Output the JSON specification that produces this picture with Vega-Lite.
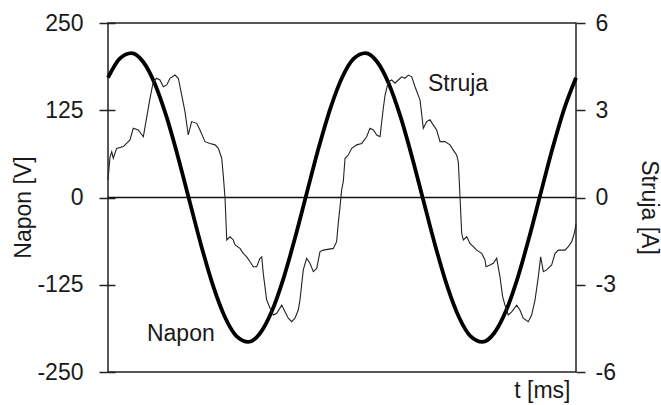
{
  "$schema": "https://vega.github.io/schema/vega-lite/v6.json",
  "autosize": {"type": "none"},
  "width": 468,
  "height": 349,
  "padding": {"left": 108, "top": 23, "right": 85, "bottom": 33},
  "background": "white",
  "config": {
    "view": {"stroke": "#222", "strokeWidth": 1.5},
    "font": "Liberation Sans",
    "axis": {"grid": false, "labelFont": "Liberation Sans", "titleFont": "Liberation Sans", "labelFontSize": 23, "titleFontSize": 23, "titleFontWeight": "normal", "labelColor": "#1a1a1a", "titleColor": "#1a1a1a", "tickColor": "#222", "tickWidth": 1.5, "labelFlush": false, "labelOverlap": false}
  },
  "datasets": {
    "napon": [
      {"t": 0, "v": 171.6}, {"t": 1, "v": 199.0}, {"t": 2, "v": 206.9}, {"t": 3, "v": 194.5}, {"t": 4, "v": 163.1},
      {"t": 5, "v": 115.8}, {"t": 6, "v": 57.1}, {"t": 7, "v": -7.2}, {"t": 8, "v": -70.8}, {"t": 9, "v": -127.4},
      {"t": 10, "v": -171.6}, {"t": 11, "v": -199.0}, {"t": 12, "v": -206.9}, {"t": 13, "v": -194.5}, {"t": 14, "v": -163.1},
      {"t": 15, "v": -115.8}, {"t": 16, "v": -57.1}, {"t": 17, "v": 7.2}, {"t": 18, "v": 70.8}, {"t": 19, "v": 127.4},
      {"t": 20, "v": 171.6}, {"t": 21, "v": 199.0}, {"t": 22, "v": 206.9}, {"t": 23, "v": 194.5}, {"t": 24, "v": 163.1},
      {"t": 25, "v": 115.8}, {"t": 26, "v": 57.1}, {"t": 27, "v": -7.2}, {"t": 28, "v": -70.8}, {"t": 29, "v": -127.4},
      {"t": 30, "v": -171.6}, {"t": 31, "v": -199.0}, {"t": 32, "v": -206.9}, {"t": 33, "v": -194.5}, {"t": 34, "v": -163.1},
      {"t": 35, "v": -115.8}, {"t": 36, "v": -57.1}, {"t": 37, "v": 7.2}, {"t": 38, "v": 70.8}, {"t": 39, "v": 127.4},
      {"t": 40, "v": 171.6}
    ],
    "struja": [
      {"t": 0, "a": 0.6}, {"t": 0.17, "a": 1.39}, {"t": 0.32, "a": 1.57}, {"t": 0.45, "a": 1.35}, {"t": 0.74, "a": 1.69},
      {"t": 1.31, "a": 1.75}, {"t": 1.88, "a": 1.98}, {"t": 2.16, "a": 2.38}, {"t": 2.59, "a": 2.32}, {"t": 3.02, "a": 2.09},
      {"t": 3.59, "a": 3.41}, {"t": 3.87, "a": 3.98}, {"t": 4.16, "a": 4.10}, {"t": 4.44, "a": 4.04}, {"t": 4.73, "a": 3.81},
      {"t": 5.02, "a": 3.87}, {"t": 5.30, "a": 4.10}, {"t": 5.73, "a": 4.21}, {"t": 6.01, "a": 4.10}, {"t": 6.30, "a": 3.52},
      {"t": 6.58, "a": 2.95}, {"t": 6.86, "a": 2.15}, {"t": 7.15, "a": 2.61}, {"t": 7.58, "a": 2.55}, {"t": 7.86, "a": 2.32},
      {"t": 8.29, "a": 1.92}, {"t": 8.72, "a": 1.86}, {"t": 9.15, "a": 1.81}, {"t": 9.43, "a": 1.69}, {"t": 9.72, "a": 1.35},
      {"t": 9.85, "a": 0.77}, {"t": 10.0, "a": 0.0}, {"t": 10.15, "a": -1.46}, {"t": 10.43, "a": -1.35}, {"t": 10.71, "a": -1.46},
      {"t": 10.86, "a": -1.63}, {"t": 11.28, "a": -1.75}, {"t": 11.56, "a": -1.92}, {"t": 11.85, "a": -2.04}, {"t": 12.14, "a": -2.21},
      {"t": 12.42, "a": -2.38}, {"t": 12.71, "a": -2.38}, {"t": 12.99, "a": -2.09}, {"t": 13.14, "a": -2.04}, {"t": 13.27, "a": -2.61},
      {"t": 13.56, "a": -3.52}, {"t": 13.85, "a": -3.81}, {"t": 14.13, "a": -4.04}, {"t": 14.42, "a": -3.98}, {"t": 14.85, "a": -3.70},
      {"t": 15.13, "a": -3.93}, {"t": 15.41, "a": -4.15}, {"t": 15.70, "a": -4.27}, {"t": 15.98, "a": -4.15}, {"t": 16.26, "a": -3.87},
      {"t": 16.41, "a": -3.52}, {"t": 16.69, "a": -2.49}, {"t": 16.98, "a": -2.09}, {"t": 17.26, "a": -2.26}, {"t": 17.55, "a": -2.55},
      {"t": 17.84, "a": -2.44}, {"t": 18.12, "a": -1.86}, {"t": 18.40, "a": -1.81}, {"t": 19.26, "a": -1.75}, {"t": 19.54, "a": -1.52},
      {"t": 19.68, "a": -0.89}, {"t": 19.83, "a": -0.32}, {"t": 19.97, "a": 0.26}, {"t": 20.11, "a": 0.54}, {"t": 20.26, "a": 1.35},
      {"t": 20.54, "a": 1.46}, {"t": 20.83, "a": 1.69}, {"t": 21.26, "a": 1.81}, {"t": 21.68, "a": 1.86}, {"t": 22.11, "a": 2.09},
      {"t": 22.39, "a": 2.38}, {"t": 22.68, "a": 2.32}, {"t": 22.97, "a": 2.15}, {"t": 23.25, "a": 2.09}, {"t": 23.53, "a": 3.07},
      {"t": 23.68, "a": 3.52}, {"t": 23.96, "a": 3.98}, {"t": 24.25, "a": 4.04}, {"t": 24.53, "a": 3.93}, {"t": 24.81, "a": 4.04},
      {"t": 25.10, "a": 4.15}, {"t": 25.38, "a": 4.10}, {"t": 25.67, "a": 4.21}, {"t": 25.96, "a": 4.15}, {"t": 26.24, "a": 3.81},
      {"t": 26.67, "a": 3.35}, {"t": 26.95, "a": 2.38}, {"t": 27.24, "a": 2.61}, {"t": 27.52, "a": 2.67}, {"t": 27.81, "a": 2.49},
      {"t": 28.09, "a": 2.32}, {"t": 28.38, "a": 1.92}, {"t": 28.80, "a": 1.92}, {"t": 29.23, "a": 1.81}, {"t": 29.51, "a": 1.63},
      {"t": 29.80, "a": 1.46}, {"t": 29.94, "a": 1.23}, {"t": 30.09, "a": 0.0}, {"t": 30.23, "a": -1.23}, {"t": 30.37, "a": -1.46},
      {"t": 30.66, "a": -1.35}, {"t": 30.94, "a": -1.58}, {"t": 31.23, "a": -1.69}, {"t": 31.51, "a": -1.81}, {"t": 31.94, "a": -1.92},
      {"t": 32.22, "a": -2.15}, {"t": 32.31, "a": -2.38}, {"t": 32.65, "a": -2.32}, {"t": 32.93, "a": -2.26}, {"t": 33.22, "a": -2.09},
      {"t": 33.50, "a": -2.72}, {"t": 33.73, "a": -3.41}, {"t": 33.93, "a": -3.70}, {"t": 34.21, "a": -4.04}, {"t": 34.50, "a": -3.93},
      {"t": 34.93, "a": -3.70}, {"t": 35.21, "a": -3.87}, {"t": 35.49, "a": -4.15}, {"t": 35.92, "a": -4.27}, {"t": 36.21, "a": -4.04},
      {"t": 36.50, "a": -3.52}, {"t": 36.78, "a": -2.72}, {"t": 36.98, "a": -2.04}, {"t": 37.21, "a": -2.55}, {"t": 37.49, "a": -2.49},
      {"t": 37.92, "a": -2.32}, {"t": 38.21, "a": -1.92}, {"t": 38.49, "a": -1.81}, {"t": 39.06, "a": -1.81}, {"t": 39.34, "a": -1.69},
      {"t": 39.63, "a": -1.52}, {"t": 39.77, "a": -1.35}, {"t": 39.91, "a": -1.12}, {"t": 40.0, "a": -0.9}
    ],
    "nula": [{"v": 0}],
    "oznake": [
      {"t": 27.35, "v": 151.9, "label": "Struja"},
      {"t": 3.33, "v": -206.3, "label": "Napon"}
    ]
  },
  "layer": [
    {
      "layer": [
        {
          "data": {"name": "nula"},
          "mark": {"type": "rule", "color": "#111", "strokeWidth": 1.5},
          "encoding": {
            "y": {"field": "v", "type": "quantitative", "scale": {"domain": [-250, 250], "nice": false, "zero": false}}
          }
        },
        {
          "data": {"name": "napon"},
          "mark": {"type": "line", "color": "#000", "strokeWidth": 3.8, "interpolate": "monotone"},
          "encoding": {
            "x": {"field": "t", "type": "quantitative", "scale": {"domain": [0, 40], "nice": false, "zero": false},
                  "axis": {"orient": "bottom", "labels": false, "ticks": false, "domain": false, "title": "t [ms]", "titleX": 462, "titleY": 25, "titleAlign": "right", "titleBaseline": "alphabetic"}},
            "y": {"field": "v", "type": "quantitative", "scale": {"domain": [-250, 250], "nice": false, "zero": false},
                  "axis": {"orient": "left", "values": [-250, -125, 0, 125, 250], "labelExpr": "datum.value < 0 ? '-' + abs(datum.value) : '' + datum.value", "domain": false, "offset": -7, "tickSize": 16, "labelPadding": 16, "title": "Napon [V]", "titleAngle": 270, "titleX": -92, "titleY": 184, "titleAlign": "center", "titleBaseline": "middle"}}
          }
        },
        {
          "data": {"name": "oznake"},
          "mark": {"type": "text", "align": "left", "baseline": "alphabetic", "fontSize": 23, "font": "Liberation Sans", "color": "#1a1a1a"},
          "encoding": {
            "x": {"field": "t", "type": "quantitative"},
            "y": {"field": "v", "type": "quantitative"},
            "text": {"field": "label"}
          }
        }
      ]
    },
    {
      "data": {"name": "struja"},
      "mark": {"type": "line", "color": "#222", "strokeWidth": 1.1},
      "encoding": {
        "x": {"field": "t", "type": "quantitative"},
        "y": {"field": "a", "type": "quantitative", "scale": {"domain": [-6, 6], "nice": false, "zero": false},
              "axis": {"orient": "right", "values": [-6, -3, 0, 3, 6], "labelExpr": "datum.value < 0 ? '-' + abs(datum.value) : '' + datum.value", "domain": false, "tickSize": 9, "labelPadding": 10, "title": "Struja [A]", "titleAngle": 90, "titleX": 72, "titleY": 184, "titleAlign": "center", "titleBaseline": "middle"}}
      }
    }
  ],
  "resolve": {"scale": {"y": "independent"}}
}
